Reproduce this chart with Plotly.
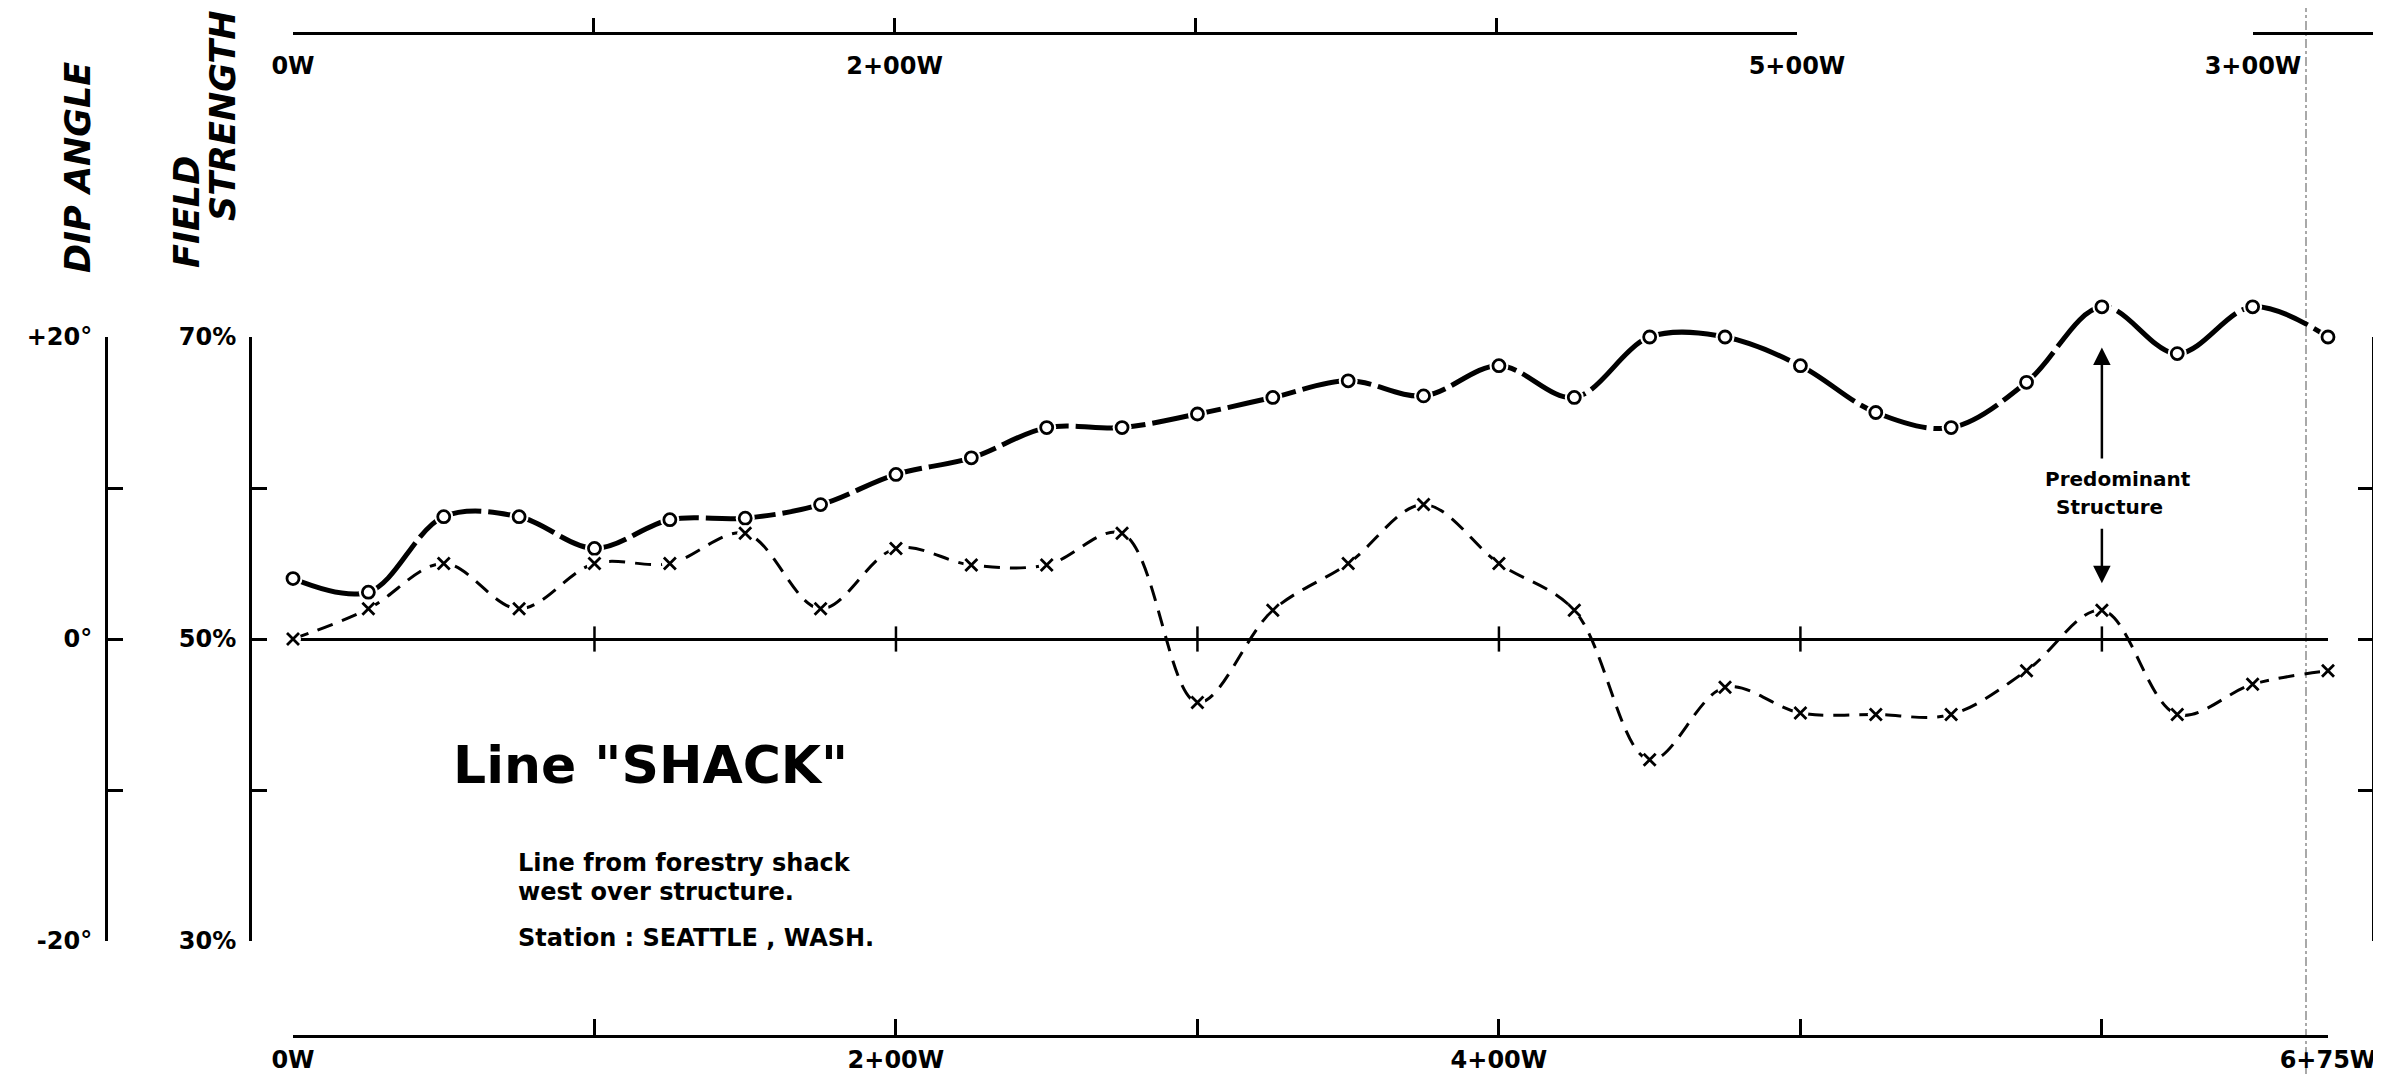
import plotly.graph_objects as go

# ---------------- data (stations in hundreds of feet west) ----------------
STATIONS = [0.0, 0.25, 0.5, 0.75, 1.0, 1.25, 1.5, 1.75, 2.0, 2.25, 2.5, 2.75,
            3.0, 3.25, 3.5, 3.75, 4.0, 4.25, 4.5, 4.75, 5.0, 5.25, 5.5, 5.75,
            6.0, 6.25, 6.5, 6.75]
FIELD_STRENGTH = [54.0, 53.1, 58.1, 58.1, 56.0, 57.9, 58.0, 58.9, 60.9, 62.0, 64.0, 64.0,
                  64.9, 66.0, 67.1, 66.1, 68.1, 66.0, 70.0, 70.0, 68.1, 65.0, 64.0, 67.0,
                  72.0, 68.9, 72.0, 70.0]
DIP_ANGLE = [0.0, 2.0, 5.0, 2.0, 5.0, 5.0, 7.0, 2.0, 6.0, 4.9, 4.9, 7.0,
             -4.2, 1.9, 5.0, 8.9, 5.0, 1.9, -8.0, -3.2, -4.9, -5.0, -5.0, -2.1,
             1.9, -5.0, -3.0, -2.1]

BOTTOM_TICKS = [0, 1, 2, 3, 4, 5, 6, 6.75]
BOTTOM_LABELS = ["0W", "", "2+00W", "", "4+00W", "", "", "6+75W"]
TOP_TICKS = [0, 1, 2, 3, 4, 5]
TOP_LABELS = ["0W", "", "2+00W", "", "", "5+00W"]
TOP2_TICKS = [3]
TOP2_LABELS = ["3+00W"]
ZERO_LINE_TICKS = [1, 2, 3, 4, 5, 6]
FIELD_TICKS = [30, 40, 50, 60, 70]
FIELD_LABELS = ["<b>30%</b>", "", "<b>50%</b>", "", "<b>70%</b>"]
DIP_TICKS = [-20, -10, 0, 10, 20]
DIP_LABELS = ["<b>-20°</b>", "", "<b>0°</b>", "", "<b>+20°</b>"]

# ---------------- page geometry ----------------
PAGE_W, PAGE_H = 2381, 1082
OFF = 8                                  # default body margin of the page
W, H = PAGE_W - OFF, PAGE_H - 2 * OFF    # figure size that fits the window
FONT = "DejaVu Sans, Liberation Sans, sans-serif"
BLACK = "black"

def px_x(p):
    return (p - OFF) / W

def px_y(p):
    return 1 - (p - OFF) / H

X0_PX, X1_PX = 293, 2328           # station 0 and 6.75 (page pixels)
ZERO_PX, PCT_PX = 639, 15.1        # 50% / 0 deg line, pixels per unit
Y_TOP = 50 + (ZERO_PX - OFF) / PCT_PX
Y_BOT = 50 - (OFF + H - ZERO_PX) / PCT_PX
SCALE_DOMAIN = [px_y(941), px_y(337)]
PX_PER_STATION = (X1_PX - X0_PX) / 6.75

fig = go.Figure()

# dip angle (dashed, x markers)
fig.add_trace(go.Scatter(
    x=STATIONS, y=DIP_ANGLE, yaxis="y2", mode="lines",
    line=dict(color=BLACK, width=3, dash="16px,10px", shape="spline", smoothing=1.0),
    hoverinfo="skip"))
fig.add_trace(go.Scatter(
    x=STATIONS, y=DIP_ANGLE, yaxis="y2", mode="markers",
    marker=dict(symbol="circle", size=16, color="white"), cliponaxis=False, hoverinfo="skip"))
fig.add_trace(go.Scatter(
    x=STATIONS, y=DIP_ANGLE, yaxis="y2", mode="markers",
    marker=dict(symbol="x-thin", size=12, line=dict(width=2.8, color=BLACK)),
    cliponaxis=False, name="Dip angle"))

# tick crosses on the zero line
fig.add_trace(go.Scatter(
    x=ZERO_LINE_TICKS, y=[0] * len(ZERO_LINE_TICKS), yaxis="y2", mode="markers",
    marker=dict(symbol="line-ns", size=18, line=dict(width=2.5, color=BLACK)),
    hoverinfo="skip"))

# field strength (heavy line, open circles)
fig.add_trace(go.Scatter(
    x=STATIONS, y=FIELD_STRENGTH, mode="lines",
    line=dict(color=BLACK, width=5, dash="70px,7px", shape="spline", smoothing=1.0),
    hoverinfo="skip"))
fig.add_trace(go.Scatter(
    x=STATIONS, y=FIELD_STRENGTH, mode="markers",
    marker=dict(symbol="circle", size=19, color="white"), cliponaxis=False, hoverinfo="skip"))
fig.add_trace(go.Scatter(
    x=STATIONS, y=FIELD_STRENGTH, mode="markers",
    marker=dict(symbol="circle", size=12, color="white", line=dict(width=2.8, color=BLACK)),
    cliponaxis=False, name="Field strength"))

# empty traces that carry the decorative scales
for xa, ya in [("x3", "y"), ("x4", "y"), ("x5", "y"), ("x", "y3"), ("x", "y4"), ("x", "y5")]:
    fig.add_trace(go.Scatter(x=[], y=[], xaxis=xa, yaxis=ya, hoverinfo="skip"))

hidden = dict(showgrid=False, zeroline=False, showline=False, showticklabels=False,
              ticks="", fixedrange=True, automargin=False)
axis_common = dict(showgrid=False, zeroline=False, showline=True, linecolor=BLACK,
                   linewidth=3, tickcolor=BLACK, tickwidth=3, fixedrange=True,
                   automargin=False)
xtick_font = dict(family=FONT, size=24, color=BLACK, weight="bold")
ytick_font = dict(family=FONT, size=24, color=BLACK)

x_dom = [px_x(X0_PX), px_x(X1_PX)]
top2_start = 2253
fig.update_layout(
    width=W, height=H, margin=dict(l=0, r=0, t=0, b=0),
    paper_bgcolor="white", plot_bgcolor="rgba(0,0,0,0)", showlegend=False,
    xaxis=dict(domain=x_dom, range=[0, 6.75], **hidden),
    yaxis=dict(domain=[0, 1], range=[Y_BOT, Y_TOP], **hidden),
    yaxis2=dict(overlaying="y", range=[Y_BOT - 50, Y_TOP - 50], showgrid=False,
                showline=False, showticklabels=False, ticks="", zeroline=True,
                zerolinecolor=BLACK, zerolinewidth=3, fixedrange=True, automargin=False),
    # bottom station scale
    xaxis3=dict(domain=x_dom, range=[0, 6.75], anchor="free", position=px_y(1036),
                side="bottom", ticks="inside", ticklen=16, tickvals=BOTTOM_TICKS,
                ticktext=BOTTOM_LABELS, tickfont=xtick_font, ticklabelstandoff=1,
                **axis_common),
    # top station scale (first segment)
    xaxis4=dict(domain=[px_x(X0_PX), px_x(1797)], range=[0, 5], anchor="free",
                position=px_y(33), side="bottom", ticks="inside", ticklen=14,
                tickvals=TOP_TICKS, ticktext=TOP_LABELS, tickfont=xtick_font,
                ticklabelstandoff=10, **axis_common),
    # top station scale (second segment)
    xaxis5=dict(domain=[px_x(top2_start), 1],
                range=[3, 3 + (OFF + W - top2_start) / PX_PER_STATION],
                anchor="free", position=px_y(33), side="bottom", ticks="inside",
                ticklen=14, tickvals=TOP2_TICKS, ticktext=TOP2_LABELS,
                tickfont=xtick_font, ticklabelstandoff=10, **axis_common),
    # field strength scale
    yaxis3=dict(domain=SCALE_DOMAIN, range=[30, 70], anchor="free", position=px_x(250),
                side="left", ticks="inside", ticklen=15, tickvals=FIELD_TICKS,
                ticktext=FIELD_LABELS, tickfont=ytick_font, ticklabelstandoff=8,
                **axis_common),
    # dip angle scale
    yaxis4=dict(domain=SCALE_DOMAIN, range=[-20, 20], anchor="free", position=px_x(106),
                side="left", ticks="inside", ticklen=15, tickvals=DIP_TICKS,
                ticktext=DIP_LABELS, tickfont=ytick_font, ticklabelstandoff=8,
                **axis_common),
    # right-hand scale
    yaxis5=dict(domain=SCALE_DOMAIN, range=[30, 70], anchor="free", position=px_x(2373),
                side="right", ticks="inside", ticklen=14, tickvals=FIELD_TICKS,
                showticklabels=False, **axis_common),
)

# "Predominant Structure" arrows, pointing at the field-strength peak
peak_i = FIELD_STRENGTH.index(max(FIELD_STRENGTH))
peak_x = STATIONS[peak_i]
peak_y = FIELD_STRENGTH[peak_i]
arrow = dict(xref="x", yref="y", axref="x", ayref="y", text="", showarrow=True,
             arrowhead=2, arrowsize=1.4, arrowwidth=2.5, arrowcolor=BLACK)
fig.add_annotation(x=peak_x, y=peak_y - 2.7, ax=peak_x, ay=peak_y - 10.15, **arrow)
fig.add_annotation(x=peak_x, y=peak_y - 18.3, ax=peak_x, ay=peak_y - 14.6, **arrow)

def note(text, x, y, size, xanchor="center", angle=0):
    fig.add_annotation(text=text, x=x, y=y, xref="paper", yref="paper", showarrow=False,
                       xanchor=xanchor, yanchor="middle", textangle=angle,
                       font=dict(family=FONT, size=size, color=BLACK))

note("<b>Predominant</b>", px_x(2118), px_y(479), 20)
note("<b>Structure</b>", px_x(2109), px_y(507), 20)

note('<b>Line "SHACK"</b>', px_x(451), px_y(765), 52, xanchor="left")
note("<b>Line from forestry shack</b>", px_x(516), px_y(863), 24, xanchor="left")
note("<b>west over structure.</b>", px_x(516), px_y(892), 24, xanchor="left")
note("<b>Station : SEATTLE , WASH.</b>", px_x(516), px_y(938), 24, xanchor="left")

note("<b><i>DIP ANGLE</i></b>", px_x(78), px_y(168), 35, angle=-90)
note("<b><i>FIELD</i></b>", px_x(187), px_y(212), 35, angle=-90)
note("<b><i>STRENGTH</i></b>", px_x(223), px_y(116), 35, angle=-90)

# faint fold line from the scanned sheet
fig.add_shape(type="line", xref="paper", yref="paper", x0=px_x(2306), x1=px_x(2306),
              y0=0, y1=1, line=dict(color="rgba(0,0,0,0.45)", width=1.5, dash="dashdot"))

fig.write_html("out.html")
